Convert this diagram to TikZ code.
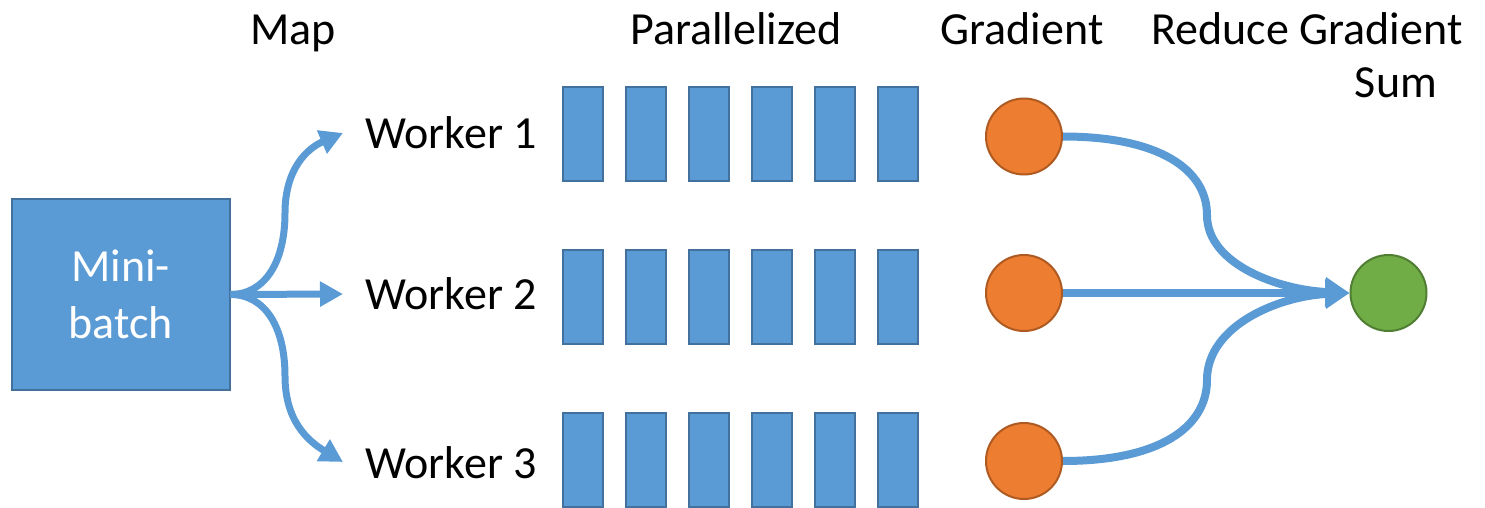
\documentclass[tikz,border=0pt]{standalone}
\usepackage{fontspec}
\setmainfont{Carlito}
\usetikzlibrary{arrows.meta}
\definecolor{bluefill}{HTML}{5B9BD5}
\definecolor{blueline}{HTML}{41719C}
\definecolor{orangefill}{HTML}{ED7D31}
\definecolor{orangeline}{HTML}{AE5A21}
\definecolor{greenfill}{HTML}{70AD47}
\definecolor{greenline}{HTML}{507E32}
\tikzset{
  lbl/.style={font=\fontsize{23pt}{26.5pt}\selectfont, inner sep=0pt},
  hdr/.style={lbl, anchor=base},
  wlbl/.style={lbl, anchor=base west},
  bar/.style={draw=blueline, fill=bluefill, line width=1pt, minimum width=20pt, minimum height=47pt, inner sep=0pt},
  gradnode/.style={circle, draw=orangeline, fill=orangefill, line width=1pt, minimum size=38pt, inner sep=0pt},
  sumnode/.style={circle, draw=greenline, fill=greenfill, line width=1pt, minimum size=38pt, inner sep=0pt},
  mbox/.style={draw=blueline, fill=bluefill, line width=1pt, minimum width=109pt, minimum height=95pt, inner sep=0pt,
    text=white, align=center, font=\fontsize{23pt}{28.5pt}\selectfont},
  maparrow/.style={draw=bluefill, line width=3.5pt, -{Triangle[length=11.5pt,width=12pt]}},
  redarrow/.style={draw=bluefill, line width=4pt, -{Triangle[length=12pt,width=14pt]}},
}
\begin{document}
\begin{tikzpicture}[x=0.5pt, y=-0.5pt]
\useasboundingbox (0,0) rectangle (1485,508);
% headers
\node[hdr] (hmap) at (293,45) {Map};
\node[hdr] (hpar) at (736,45) {Parallelized};
\node[hdr] (hgrad) at (1022,45) {Gradient};
\node[hdr] (hred) at (1307,45) {Reduce Gradient};
\node[hdr] (hsum) at (1396,98) {Sum};
% mini-batch
\node[mbox] (mb) at (120.5,294.5) {Mini-\\batch};
% workers
\node[wlbl] (w1) at (365,149) {Worker 1};
\node[wlbl] (w2) at (365,309) {Worker 2};
\node[wlbl] (w3) at (365,478) {Worker 3};
% bars
\foreach \r/\y in {1/134, 2/297, 3/459.5}{
  \foreach \k in {0,...,5}{
    \node[bar] (b\r\k) at ({583+63*\k},\y) {};
  }
}
% gradient circles
\node[gradnode] (o1) at (1024,136.5) {};
\node[gradnode] (o2) at (1024,293) {};
\node[gradnode] (o3) at (1024,461) {};
\node[sumnode] (g) at (1388.5,293) {};
% map arrows
\coordinate (t1) at (343,133);
\coordinate (t2) at (343,294);
\coordinate (t3) at (343,462);
\draw[maparrow] (mb.east) .. controls (265,294.5) and (285,262) .. (285,213) .. controls (285,168) and (308,148) .. (t1);
\draw[maparrow] (mb.east) -- (t2);
\draw[maparrow] (mb.east) .. controls (265,294.5) and (285,327) .. (285,376) .. controls (285,421) and (308,441) .. (t3);
% reduce arrows
\draw[redarrow] (o1.east) .. controls (1160,136.5) and (1207,170) .. (1207,215) .. controls (1207,265) and (1280,290) .. (g.west);
\draw[redarrow] (o2.east) -- (g.west);
\draw[redarrow] (o3.east) .. controls (1160,461) and (1207,427) .. (1207,380) .. controls (1207,325) and (1280,296) .. (g.west);
\end{tikzpicture}
\end{document}
